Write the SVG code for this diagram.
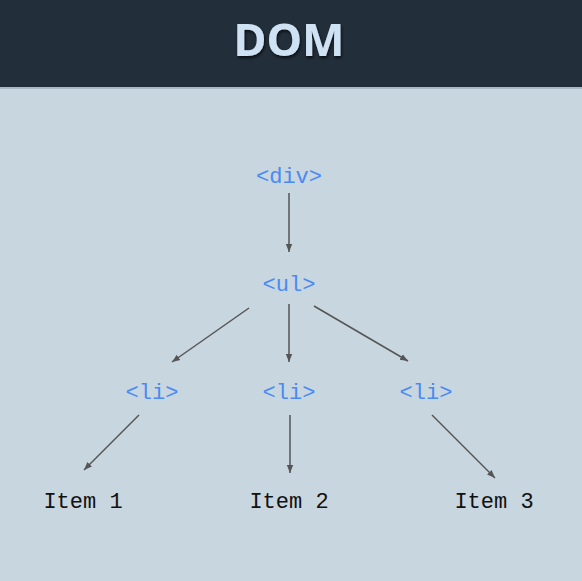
<svg xmlns="http://www.w3.org/2000/svg" width="582" height="581" viewBox="0 0 582 581">
<defs>
<marker id="ah" viewBox="0 0 10 10" refX="10" refY="5" markerWidth="8" markerHeight="8" orient="auto" markerUnits="userSpaceOnUse"><path d="M0,1 L10,5 L0,9 z" fill="#555"/></marker>
<filter id="sh" x="-20%" y="-20%" width="140%" height="160%"><feDropShadow dx="1" dy="2" stdDeviation="1.5" flood-color="#000" flood-opacity="0.7"/></filter>
</defs>
<style>
.tag{font-family:"Liberation Mono","DejaVu Sans Mono",monospace;font-size:22px;fill:#4a8af4;text-anchor:middle}
.item{font-family:"Liberation Mono","DejaVu Sans Mono",monospace;font-size:22px;fill:#111;text-anchor:middle}
.c line{stroke:#555;stroke-width:1.5;marker-end:url(#ah)}
</style>
<rect width="582" height="581" fill="#c8d6df"/>
<rect width="582" height="87" fill="#222e3a"/>
<rect y="87" width="582" height="2" fill="#a9b8c3"/>
<text x="289" y="56" font-family="'Noto Sans','Open Sans',sans-serif" font-weight="bold" font-size="45" fill="#cfe2f3" text-anchor="middle" filter="url(#sh)">DOM</text>
<g class="c">
<line x1="289" y1="193" x2="289" y2="252"/>
<line x1="249" y1="308" x2="172" y2="362"/>
<line x1="289" y1="304" x2="289" y2="362"/>
<line x1="314" y1="306" x2="408" y2="361"/>
<line x1="139" y1="415" x2="84" y2="470"/>
<line x1="290" y1="415" x2="290" y2="473"/>
<line x1="432" y1="415" x2="495" y2="478"/>
</g>
<g id="div"><text class="tag" x="289" y="183">&lt;div&gt;</text></g>
<g id="ul"><text class="tag" x="289" y="291">&lt;ul&gt;</text></g>
<g id="li1"><text class="tag" x="152" y="399">&lt;li&gt;</text></g>
<g id="li2"><text class="tag" x="289" y="399">&lt;li&gt;</text></g>
<g id="li3"><text class="tag" x="426" y="399">&lt;li&gt;</text></g>
<g id="item1"><text class="item" x="83" y="508">Item 1</text></g>
<g id="item2"><text class="item" x="289" y="508">Item 2</text></g>
<g id="item3"><text class="item" x="494" y="508">Item 3</text></g>
</svg>
